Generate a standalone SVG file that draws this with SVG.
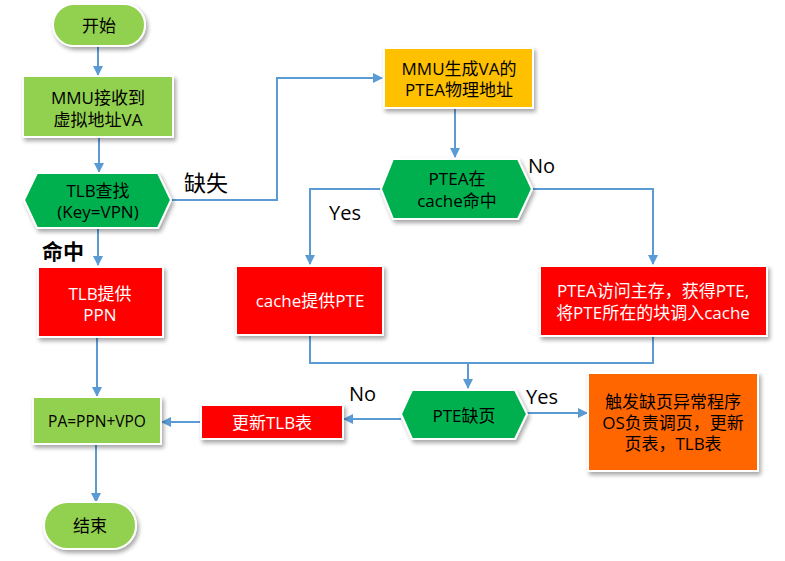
<svg xmlns="http://www.w3.org/2000/svg" width="785" height="561" viewBox="0 0 785 561">
<defs>
<filter id="sh" x="-20%" y="-20%" width="150%" height="150%">
<feGaussianBlur in="SourceAlpha" stdDeviation="2"/>
<feOffset dx="2" dy="3" result="b"/>
<feComponentTransfer><feFuncA type="linear" slope="0.35"/></feComponentTransfer>
<feMerge><feMergeNode/><feMergeNode in="SourceGraphic"/></feMerge>
</filter>
<marker id="ah" markerWidth="10" markerHeight="10" refX="9" refY="5" orient="auto" markerUnits="userSpaceOnUse" viewBox="0 0 10 10">
<path d="M0,0 L10,5 L0,10 Z" fill="#5B9BD5"/>
</marker>
</defs>
<style>
.n{stroke:#fff;stroke-width:2;filter:url(#sh)}
.g{fill:#92D050}.dg{fill:#00B050}.r{fill:#FF0000}.y{fill:#FFC000}.o{fill:#FF6600}
text{font-family:"Open Sans","Noto Sans CJK SC",sans-serif;font-size:17px;text-anchor:middle;dominant-baseline:central;fill:#000}
.w{fill:#fff}
.lb{font-size:20px;text-anchor:start}
.c{fill:none;stroke:#5B9BD5;stroke-width:2}
</style>
<rect width="785" height="561" fill="#fff"/>
<g id="connectors">
<path class="c" d="M98,46 V75" marker-end="url(#ah)"/>
<path class="c" d="M99,138 V172" marker-end="url(#ah)"/>
<path class="c" d="M171,200 H277 V78 H382" marker-end="url(#ah)"/>
<path class="c" d="M98,229 V265" marker-end="url(#ah)"/>
<path class="c" d="M97,338 V396" marker-end="url(#ah)"/>
<path class="c" d="M96,445 V502" marker-end="url(#ah)"/>
<path class="c" d="M455,109 V157" marker-end="url(#ah)"/>
<path class="c" d="M381,189 H310 V264" marker-end="url(#ah)"/>
<path class="c" d="M532,189 H653 V264" marker-end="url(#ah)"/>
<path class="c" d="M310,336 V363 H653 V337"/>
<path class="c" d="M468,363 V388" marker-end="url(#ah)"/>
<path class="c" d="M527,413 H587" marker-end="url(#ah)"/>
<path class="c" d="M401,419 H344" marker-end="url(#ah)"/>
<path class="c" d="M201,422 H162" marker-end="url(#ah)"/>
</g>
<g id="start"><rect class="n g" x="53" y="4" width="92" height="42" rx="21"/><text x="99" y="25">开始</text></g>
<g id="mmu-receive"><rect class="n g" x="23" y="76" width="150" height="61"/><text x="98" y="97">MMU接收到</text><text x="98" y="119">虚拟地址VA</text></g>
<g id="tlb-lookup"><polygon class="n dg" points="24,200 37,173 158,173 171,200 158,228 37,228"/><text x="98" y="190">TLB查找</text><text x="98" y="211">(Key=VPN)</text></g>
<g id="tlb-ppn"><rect class="n r" x="38" y="267" width="125" height="70"/><text class="w" x="100" y="293">TLB提供</text><text class="w" x="100" y="314">PPN</text></g>
<g id="pa"><rect class="n g" x="33" y="397" width="128" height="47"/><text x="97" y="421" style="font-size:15.5px">PA=PPN+VPO</text></g>
<g id="end"><rect class="n g" x="44" y="502" width="92" height="47" rx="23.5"/><text x="90" y="525">结束</text></g>
<g id="update-tlb"><rect class="n r" x="201" y="405" width="142" height="34"/><text class="w" x="272" y="422">更新TLB表</text></g>
<g id="mmu-ptea"><rect class="n y" x="384" y="48" width="149" height="60"/><text x="459" y="68">MMU生成VA的</text><text x="459" y="89">PTEA物理地址</text></g>
<g id="ptea-cache"><polygon class="n dg" points="381,189 393,159 518,159 532,189 518,219 393,219"/><text x="457" y="178">PTEA在</text><text x="457" y="200">cache命中</text></g>
<g id="cache-pte"><rect class="n r" x="236" y="266" width="147" height="69"/><text class="w" x="310" y="300">cache提供PTE</text></g>
<g id="mem-pte"><rect class="n r" x="540" y="266" width="227" height="70"/><text class="w" x="653" y="290">PTEA访问主存，获得PTE,</text><text class="w" x="653" y="312">将PTE所在的块调入cache</text></g>
<g id="pte-fault"><polygon class="n dg" points="401,414 412,390 515,390 527,414 515,439 412,439"/><text x="464" y="415">PTE缺页</text></g>
<g id="fault-handler"><rect class="n o" x="588" y="373" width="170" height="98"/><g style="font-size:16.5px"><text x="673" y="401">触发缺页异常程序</text><text x="673" y="422">OS负责调页，更新</text><text x="673" y="443">页表，TLB表</text></g></g>
<g id="labels">
<text class="lb" x="184" y="182" style="font-size:22px">缺失</text>
<text class="lb" x="42" y="251" style="font-weight:bold;font-size:21px">命中</text>
<text class="lb" x="528" y="165">No</text>
<text class="lb" x="329" y="212">Yes</text>
<text class="lb" x="349" y="393">No</text>
<text class="lb" x="526" y="396">Yes</text>
</g>
</svg>
